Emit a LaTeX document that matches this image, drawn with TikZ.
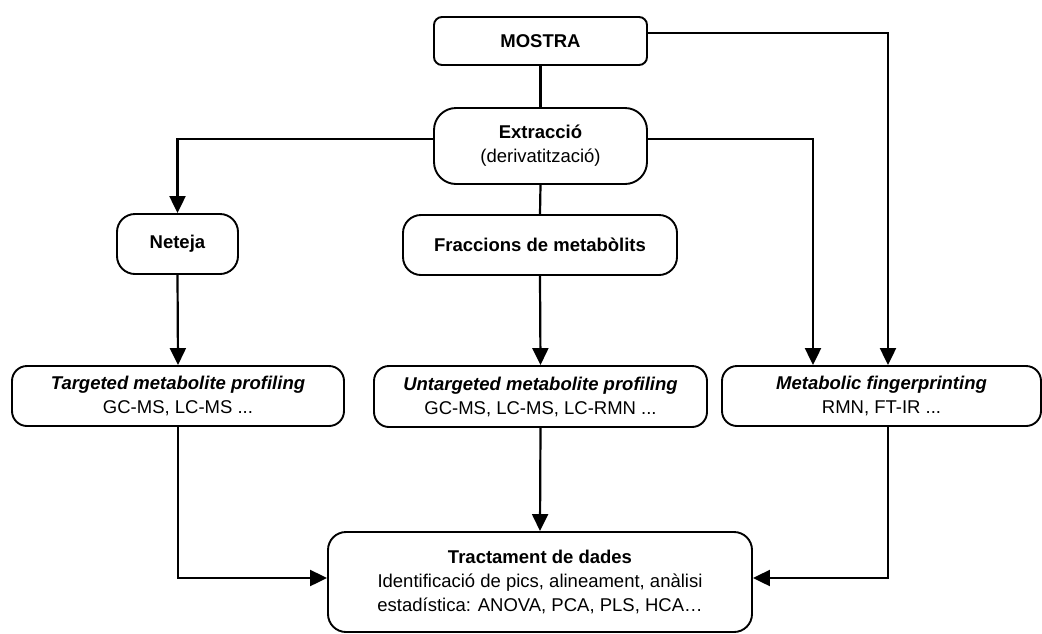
\documentclass[tikz,border=0pt]{standalone}
\usepackage{fontspec}
\setmainfont{Liberation Sans}
\usetikzlibrary{arrows.meta}
\begin{document}
\begin{tikzpicture}[x=1pt,y=-1pt,
  box/.style={draw=black,line width=1.9pt,rounded corners=#1,align=center,inner sep=0pt,
    font=\fontsize{18.5}{24}\selectfont},
  box/.default=16pt,
  link/.style={line width=2.2pt,draw=black},
  arr/.style={link,-{Triangle[length=17pt,width=16pt]}}]
\useasboundingbox (0,0) rectangle (1042,633);
\node[box=8pt,minimum width=213pt,minimum height=48pt] (mostra) at (540.5,41) {\textbf{MOSTRA}};
\node[box=22pt,minimum width=213pt,minimum height=76pt] (extr) at (540.5,146) {\textbf{Extracció}\\(derivatització)};
\node[box=18pt,minimum width=121pt,minimum height=60pt] (neteja) at (177.5,244) {\textbf{Neteja}};
\node[box=18pt,minimum width=274pt,minimum height=60pt] (fracc) at (540,245) {\textbf{Fraccions de metabòlits}};
\node[box=15pt,minimum width=332pt,minimum height=60pt] (targ) at (178,396) {\textbf{\textit{Targeted metabolite profiling}}\\GC-MS, LC-MS ...};
\node[box=15pt,minimum width=333pt,minimum height=61pt] (untarg) at (540.5,396.5) {\textbf{\textit{Untargeted metabolite profiling}}\\GC-MS, LC-MS, LC-RMN ...};
\node[box=15pt,minimum width=319pt,minimum height=60pt] (metab) at (881.5,396) {\textbf{\textit{Metabolic fingerprinting}}\\RMN, FT-IR ...};
\node[box=18pt,minimum width=424pt,minimum height=100pt] (tract) at (540,582) {\textbf{Tractament de dades}\\Identificació de pics, alineament, anàlisi\\estadística: ANOVA, PCA, PLS, HCA…};
\draw[link] (mostra.south) -- (extr.north);
\draw[link] (extr.south) -- (fracc.north);
\draw[arr] ([yshift=7pt]extr.west) -| (neteja.north);
\draw[arr] ([yshift=7pt]extr.east) -| ([xshift=-68.5pt]metab.north);
\draw[arr] ([yshift=8pt]mostra.east) -| ([xshift=6.5pt]metab.north);
\draw[arr] (neteja.south) -- (targ.north);
\draw[arr] (fracc.south) -- (untarg.north);
\draw[arr] (untarg.south) -- (tract.north);
\draw[arr] (targ.south) |- ([yshift=4pt]tract.west);
\draw[arr] ([xshift=6.5pt]metab.south) |- ([yshift=4pt]tract.east);
\end{tikzpicture}
\end{document}
